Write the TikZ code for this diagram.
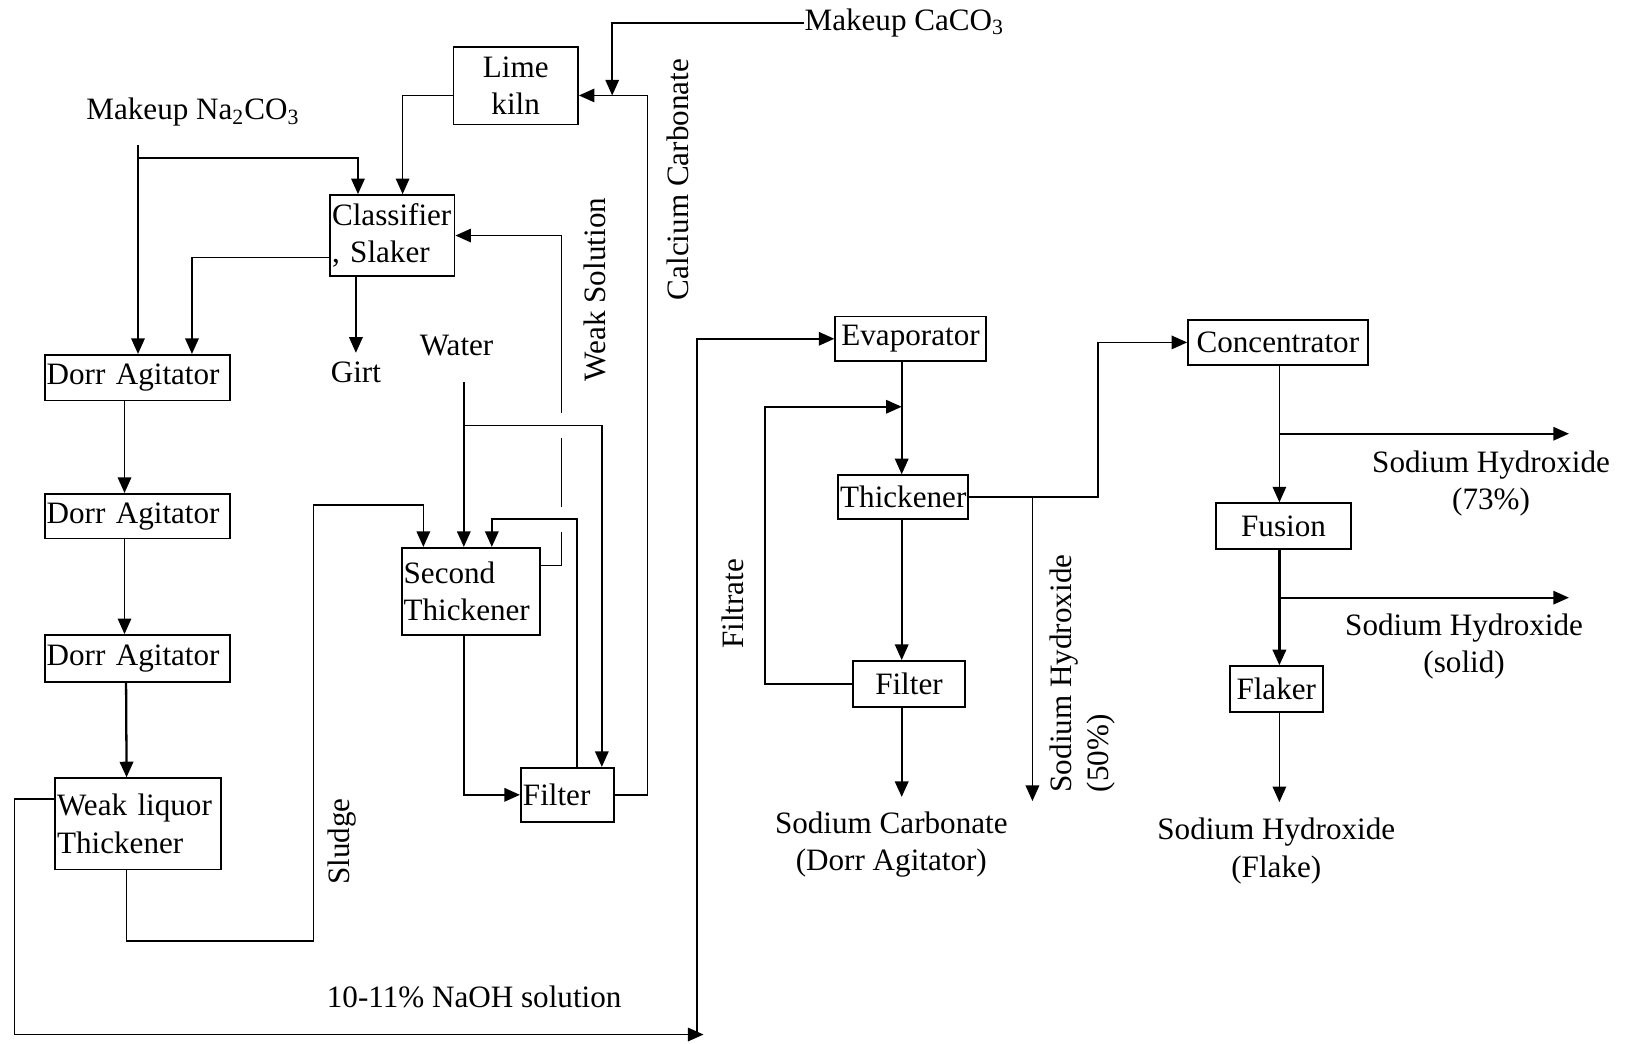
\documentclass[tikz,border=0pt]{standalone}
\usepackage{fontspec}
\setmainfont{Liberation Serif}
\usetikzlibrary{arrows.meta}
\begin{document}
\begin{tikzpicture}[x=0.5pt,y=-0.5pt,
  every node/.style={font=\fontsize{15}{18}\selectfont},
  box/.style={draw, line width=0.9pt, inner xsep=1pt, inner ysep=0pt},
  lbox/.style={box, align=left},
  cbox/.style={box, align=center},
  lbl/.style={inner sep=0pt, align=center},
  arr/.style={line width=0.8pt, -{Triangle[length=7.5pt,width=6.5pt]}},
  ln/.style={line width=0.8pt},
]
\useasboundingbox (0,0) rectangle (1568,1006);

% ---------- boxes ----------
\node[cbox, minimum width=60pt, minimum height=37.5pt] (lime) at (497,82.5) {Lime\\kiln};
\node[lbox, text width=58pt, minimum height=39pt] (classifier) at (378,227) {Classifier\\, Slaker};
\node[lbox, text width=87.5pt, minimum height=22pt] (dorr1) at (132.5,364) {Dorr Agitator};
\node[lbox, text width=87.5pt, minimum height=21.5pt] (dorr2) at (132.5,497.5) {Dorr Agitator};
\node[lbox, text width=87.5pt, minimum height=22.5pt] (dorr3) at (132.5,634.5) {Dorr Agitator};
\node[lbox, text width=78pt, minimum height=44pt] (weak) at (133,794) {Weak liquor\\Thickener};
\node[lbox, text width=64.5pt, minimum height=42pt] (second) at (453.5,570) {Second\\Thickener};
\node[lbox, text width=43pt, minimum height=26pt] (filter1) at (547,766) {Filter};
\node[cbox, minimum width=72.5pt, minimum height=21.5pt] (evap) at (877.5,326.5) {Evaporator};
\node[cbox, minimum width=62.5pt, minimum height=21pt] (thick) at (870.5,479) {Thickener};
\node[cbox, minimum width=54pt, minimum height=22pt] (filter2) at (876,659) {Filter};
\node[cbox, minimum width=86.5pt, minimum height=22pt] (conc) at (1231.5,330) {Concentrator};
\node[cbox, minimum width=65pt, minimum height=22pt] (fusion) at (1237,507) {Fusion};
\node[cbox, minimum width=45pt, minimum height=22pt] (flaker) at (1230,664) {Flaker};

% ---------- labels ----------
\node[lbl, anchor=west] (mkca) at (775,22) {Makeup CaCO\textsubscript{3}};
\node[lbl] (mkna) at (186,108) {Makeup Na\textsubscript{2}CO\textsubscript{3}};
\node[lbl, anchor=north] (girt) at (343,348) {Girt};
\node[lbl] (water) at (440,333) {Water};
\node[lbl, rotate=90] (wsl) at (573,279) {Weak Solution};
\node[lbl, rotate=90] (ccl) at (653,173) {Calcium Carbonate};
\node[lbl, rotate=90] (sludge) at (330,811) {Sludge};
\node[lbl] (naoh) at (457,961) {10-11\% NaOH solution};
\node[lbl, rotate=90] (filt) at (706,582) {Filtrate};
\node[lbl] (soca) at (859,814) {Sodium Carbonate\\(Dorr Agitator)};
\node[lbl, rotate=90, align=left] (l50) at (1043,649) {Sodium Hydroxide\\(50\%)};
\node[lbl] (l73) at (1437,466) {Sodium Hydroxide\\(73\%)};
\node[lbl] (lsol) at (1411,623) {Sodium Hydroxide\\(solid)};
\node[lbl] (lfl) at (1230,820) {Sodium Hydroxide\\(Flake)};

% ---------- coordinates ----------
\coordinate (jca) at (590,92);
\coordinate (calc) at (624,92);
\coordinate (na0) at (133,140);
\coordinate (na1) at (133,152);
\coordinate (ws0) at (541,545);
\coordinate (ws1) at (541,398);
\coordinate (w0) at (447,368);
\coordinate (w1) at (447,410);
\coordinate (sl1) at (302,907);
\coordinate (sl2) at (302,487);
\coordinate (f1) at (556,500);
\coordinate (b1) at (14,997);
\coordinate (b2) at (678,997);
\coordinate (b3) at (672,997);
\coordinate (cx) at (869,768);
\coordinate (ft1) at (737,392);
\coordinate (tc) at (1058,330);
\coordinate (s50) at (995,772);
\coordinate (cy) at (1233,773);
\coordinate (j73) at (1233,418);
\coordinate (e73) at (1512,418);
\coordinate (js) at (1233,576);
\coordinate (es) at (1512,576);

% ---------- connectors: left part ----------
\draw[arr] (mkca.west) -| (jca);
\draw[arr] (filter1.east) -| (calc) -- (lime.east |- calc);
\draw[arr] (lime.west |- calc) -| ([xshift=5pt]classifier.north);
\draw[arr] (na0) -- (dorr1.north -| na0);
\draw[arr] (na1) -| ([xshift=-16.5pt]classifier.north);
\draw[arr] ([yshift=-10.5pt]classifier.west) -| ([xshift=26.25pt]dorr1.north);
\draw[arr] (classifier.south -| girt.north) -- ([yshift=4pt]girt.north);

\draw[ln] ([yshift=12.5pt]second.east) -- (ws0);
\draw[ln, dash pattern=on 0pt off 12pt on 33.5pt off 12pt on 20pt] (ws1) -- (ws0);
\draw[arr] (ws1) |- (classifier.east);

\draw[arr] (w0) -- (second.north -| w0);
\draw[arr] (w1) -| ([xshift=16.5pt]filter1.north);

\draw[arr] ([xshift=-5.5pt]weak.south) |- (sl1) -- (sl2) -| ([xshift=-22.75pt]second.north);
\draw[arr] ([xshift=4.5pt]filter1.north) -- (f1) -| ([xshift=10.25pt]second.north);
\draw[arr] ([xshift=-3.25pt]second.south) |- (filter1.west);

\draw[arr] ([xshift=-6.25pt]dorr1.south) -- ([xshift=-6.25pt]dorr2.north);
\draw[arr] ([xshift=-6.25pt]dorr2.south) -- ([xshift=-6.25pt]dorr3.north);
\draw[arr, line width=1.1pt] ([xshift=-5.5pt]dorr3.south) -- ([xshift=-5.5pt]weak.north);

\draw[arr] ([yshift=12pt]weak.west) -| (b1) -- (b2);
\draw[arr] (b3) |- (evap.west);

% ---------- connectors: right part ----------
\draw[arr] (evap.south -| cx) -- (thick.north -| cx);
\draw[arr] (thick.south -| cx) -- (filter2.north -| cx);
\draw[arr, line width=1.1pt] (filter2.south -| cx) -- (cx);
\draw[arr] (filter2.west) -| (ft1) -- (cx |- ft1);
\draw[arr] (thick.east) -| (tc |- conc.west) -- (conc.west);
\draw[arr] (thick.east -| s50) -- (s50);

\draw[arr] (conc.south -| cy) -- (fusion.north -| cy);
\draw[arr, line width=1.1pt] (fusion.south -| cy) -- (flaker.north -| cy);
\draw[arr] (flaker.south -| cy) -- (cy);
\draw[arr] (j73) -- (e73);
\draw[arr] (js) -- (es);
\end{tikzpicture}
\end{document}
